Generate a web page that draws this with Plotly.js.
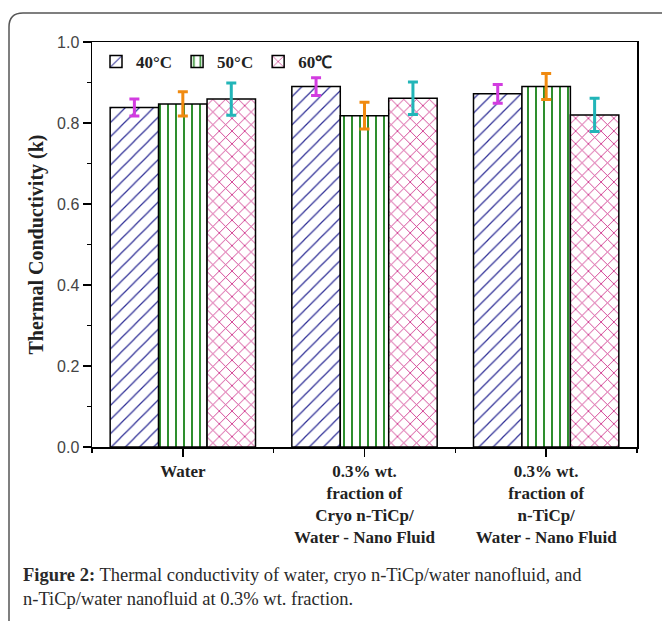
<!DOCTYPE html>
<html>
<head>
<meta charset="utf-8">
<script src="https://cdn.plot.ly/plotly-3.0.1.min.js"></script>
<style>html,body{margin:0;padding:0;background:#fff;}</style>
</head>
<body>
<div id="chart" style="width:662px;height:621px;"></div>
<script>
// ---- data ----
const categories = [
  "Water",
  "0.3% wt.<br>fraction of<br>Cryo n-TiCp/<br>Water - Nano Fluid",
  "0.3% wt.<br>fraction of<br>n-TiCp/<br>Water - Nano Fluid"
];
const seriesNames = ["40\u00b0C", "50\u00b0C", "60\u2103"];
const values40 = [0.838, 0.890, 0.872];
const values50 = [0.847, 0.818, 0.890];
const values60 = [0.859, 0.861, 0.820];
const err40 = [0.021, 0.022, 0.023];
const err50 = [0.030, 0.033, 0.032];
const err60 = [0.040, 0.040, 0.041];
const yTicks = [0.0, 0.2, 0.4, 0.6, 0.8, 1.0];
const captionBold = "Figure 2:";
const captionText = " Thermal conductivity of water, cryo n-TiCp/water nanofluid, and<br>n-TiCp/water nanofluid at 0.3% wt. fraction.";

// ---- layout constants (pixels) ----
const W = 662, H = 621;
const M = {l: 92, r: 25, t: 42, b: 174};
const pw = W - M.l - M.r, ph = H - M.t - M.b;
const px = v => (v - M.l) / pw;
const py = v => (H - M.b - v) / ph;

const xIdx = categories.map((_, i) => i);
const styles = [
  {pat: {shape: "/", fgcolor: "#2e2e96", bgcolor: "#ffffff", size: 10, solidity: 0.12}, err: "#d23ce0"},
  {pat: {shape: "|", fgcolor: "#2e8e2e", bgcolor: "#ffffff", size: 8, solidity: 0.25}, err: "#f08a10"},
  {pat: {shape: "x", fgcolor: "#cc2a86", bgcolor: "#ffffff", size: 9, solidity: 0.18}, err: "#22b5b8"}
];
const vals = [values40, values50, values60];
const errs = [err40, err50, err60];

const traces = vals.map((v, k) => ({
  type: "bar",
  name: seriesNames[k],
  x: xIdx,
  y: v,
  marker: {color: "#ffffff", pattern: styles[k].pat, line: {color: "#000000", width: 1.5}},
  error_y: {type: "data", array: errs[k], visible: true, color: styles[k].err, thickness: 3, width: 5}
}));

const serif = "'Liberation Serif', 'Times New Roman', serif";
const sans = "'Liberation Sans', Arial, sans-serif";
const border = {
  type: "path", xref: "paper", yref: "paper",
  path: `M ${px(9)},${py(621)} L ${px(9)},${py(27)} Q ${px(9)},${py(13)} ${px(23)},${py(13)} L ${px(662)},${py(13)}`,
  line: {color: "#555555", width: 1.5}
};

const layout = {
  width: W, height: H,
  margin: M,
  paper_bgcolor: "#ffffff",
  plot_bgcolor: "#ffffff",
  barmode: "group",
  bargap: 0.2,
  bargroupgap: 0,
  showlegend: true,
  legend: {
    orientation: "h", x: px(96), y: py(44), xanchor: "left", yanchor: "top",
    font: {family: serif, size: 17, color: "#222", weight: "bold"}, bgcolor: "rgba(0,0,0,0)",
    itemwidth: 30, tracegroupgap: 0
  },
  xaxis: {
    range: [-0.5, 2.5],
    tickmode: "array", tickvals: xIdx, ticktext: categories.map(c => "<b>" + c + "</b>"),
    ticks: "outside", ticklen: 8, tickwidth: 1.5, tickcolor: "#000",
    minor: {tickmode: "array", tickvals: [-0.5, 0.5, 1.5, 2.5], ticks: "outside", ticklen: 4, tickwidth: 1.5, tickcolor: "#000"},
    showline: true, linecolor: "#000", linewidth: 1.5, mirror: true,
    showgrid: false, zeroline: false, fixedrange: true,
    tickfont: {family: serif, size: 17, color: "#222"}
  },
  yaxis: {
    range: [0, 1],
    tickmode: "array", tickvals: yTicks, ticktext: yTicks.map(t => t.toFixed(1)),
    ticks: "outside", ticklen: 8, tickwidth: 1.5, tickcolor: "#000",
    minor: {dtick: 0.1, ticks: "outside", ticklen: 4, tickwidth: 1.5, tickcolor: "#000"},
    showline: true, linecolor: "#000", linewidth: 1.5, mirror: true,
    showgrid: false, zeroline: false, fixedrange: true,
    tickfont: {family: sans, size: 16, color: "#444"},
    title: {text: "<b>Thermal Conductivity (k)</b>", font: {family: serif, size: 20, color: "#222"}, standoff: 8}
  },
  shapes: [border],
  annotations: [{
    xref: "paper", yref: "paper", x: px(21), y: py(563), xanchor: "left", yanchor: "top",
    align: "left", showarrow: false,
    text: "<b>" + captionBold + "</b>" + captionText,
    font: {family: serif, size: 18.5, color: "#2a2a2a"}
  }]
};

Plotly.newPlot("chart", traces, layout, {displayModeBar: false, staticPlot: true});
</script>
</body>
</html>
